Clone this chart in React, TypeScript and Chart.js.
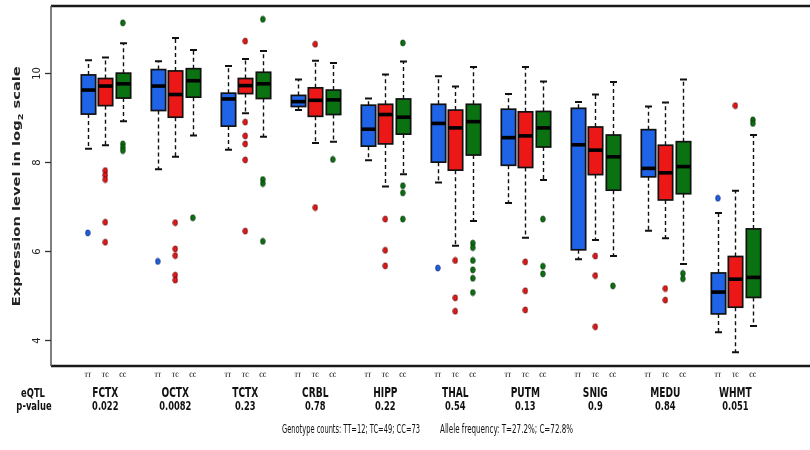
import React, { useEffect, useRef } from "react";
import { Chart, registerables } from "chart.js";

Chart.register(...registerables);

const regions = ["FCTX", "OCTX", "TCTX", "CRBL", "HIPP", "THAL", "PUTM", "SNIG", "MEDU", "WHMT"];
const pValues = ["0.022", "0.0082", "0.23", "0.78", "0.22", "0.54", "0.13", "0.9", "0.84", "0.051"];
const genotypes = ["TT", "TC", "CC"];
const yTicks = [4, 6, 8, 10];

// TT
const ttLow = [8.29, 7.83, 8.27, 9.16, 8.03, 7.53, 7.07, 5.81, 6.45, 4.17];
const ttQ1 = [9.07, 9.15, 8.8, 9.24, 8.35, 7.99, 7.92, 6.02, 7.66, 4.58];
const ttMed = [9.61, 9.7, 9.41, 9.35, 8.73, 8.86, 8.54, 8.38, 7.85, 5.07];
const ttQ3 = [9.95, 10.07, 9.54, 9.49, 9.27, 9.29, 9.18, 9.2, 8.72, 5.5];
const ttHigh = [10.28, 10.26, 10.15, 9.85, 9.42, 9.92, 9.52, 9.34, 9.24, 6.85];
const ttOut = [[6.4], [5.76], [], [], [], [5.61], [], [], [], [7.18]];

// TC
const tcLow = [8.37, 8.11, 9.09, 8.42, 7.44, 6.11, 6.29, 6.24, 6.28, 3.72];
const tcQ1 = [9.26, 9.0, 9.53, 9.02, 8.4, 7.81, 7.87, 7.71, 7.14, 4.73];
const tcMed = [9.7, 9.51, 9.71, 9.38, 9.06, 8.76, 8.58, 8.26, 7.75, 5.36];
const tcQ3 = [9.87, 10.04, 9.87, 9.66, 9.29, 9.16, 9.12, 8.78, 8.37, 5.87];
const tcHigh = [10.34, 10.78, 10.31, 10.27, 9.96, 9.69, 10.13, 9.51, 9.33, 7.35];
const tcOut = [
  [7.8, 7.7, 7.6, 6.64, 6.19],
  [6.63, 6.04, 5.89, 5.45, 5.34],
  [10.71, 8.89, 8.58, 8.4, 8.04, 6.44],
  [10.64, 6.97],
  [6.71, 6.01, 5.66],
  [5.78, 4.94, 4.64],
  [5.75, 5.1, 4.67],
  [5.88, 5.44, 4.29],
  [5.15, 4.89],
  [9.26],
];

// CC
const ccLow = [8.91, 8.59, 8.56, 8.45, 7.72, 6.67, 7.59, 5.88, 5.7, 4.31];
const ccQ1 = [9.43, 9.45, 9.42, 9.06, 8.62, 8.15, 8.33, 7.36, 7.28, 4.95];
const ccMed = [9.75, 9.82, 9.75, 9.39, 9.0, 8.9, 8.76, 8.11, 7.89, 5.4];
const ccQ3 = [9.99, 10.09, 10.01, 9.61, 9.41, 9.29, 9.13, 8.6, 8.45, 6.49];
const ccHigh = [10.66, 10.51, 10.49, 10.22, 10.25, 10.13, 9.8, 9.79, 9.85, 8.6];
const ccOut = [
  [11.12, 8.4, 8.32, 8.25],
  [6.74],
  [11.2, 7.6, 7.51, 6.21],
  [8.05],
  [10.67, 7.46, 7.3, 6.71],
  [6.17, 6.07, 5.78, 5.57, 5.38, 5.06],
  [6.71, 5.65, 5.48],
  [5.21],
  [5.49, 5.37],
  [8.94, 8.86],
];

const footGenotypeCounts = "Genotype counts: TT=12; TC=49; CC=73";
const footAllele = "Allele frequency: T=27.2%; C=72.8%";

const colors = ["#1f63e6", "#ec1717", "#0b7212"];
const outlineColors = ["#0a2c77", "#6e0707", "#043806"];

const stats = [
  { low: ttLow, q1: ttQ1, med: ttMed, q3: ttQ3, high: ttHigh, out: ttOut },
  { low: tcLow, q1: tcQ1, med: tcMed, q3: tcQ3, high: tcHigh, out: tcOut },
  { low: ccLow, q1: ccQ1, med: ccMed, q3: ccQ3, high: ccHigh, out: ccOut },
];

const slotOf = (g: number, k: number) => g * 4 + k + 1;

function makeEllipse(fill: string, stroke: string) {
  const c = document.createElement("canvas");
  c.width = 6;
  c.height = 8;
  const ctx = c.getContext("2d")!;
  ctx.beginPath();
  ctx.ellipse(3, 4, 2.2, 3, 0, 0, Math.PI * 2);
  ctx.fillStyle = fill;
  ctx.fill();
  ctx.lineWidth = 0.9;
  ctx.strokeStyle = stroke;
  ctx.stroke();
  return c;
}

const COND = '"DejaVu Sans Condensed", "Liberation Sans Narrow", "DejaVu Sans", sans-serif';

function drawText(
  ctx: CanvasRenderingContext2D,
  text: string,
  x: number,
  y: number,
  font: string,
  sx: number,
  align: CanvasTextAlign,
  color = "#111"
) {
  ctx.save();
  ctx.translate(x, y);
  ctx.scale(sx, 1);
  ctx.font = font;
  ctx.fillStyle = color;
  ctx.textAlign = align;
  ctx.textBaseline = "alphabetic";
  ctx.fillText(text, 0, 0);
  ctx.restore();
}

function drawFit(
  ctx: CanvasRenderingContext2D,
  text: string,
  x: number,
  y: number,
  font: string,
  width: number
) {
  ctx.save();
  ctx.font = font;
  const w = ctx.measureText(text).width;
  ctx.restore();
  drawText(ctx, text, x, y, font, width / w, "left");
}

const boxPlugin = {
  id: "boxes",
  beforeDatasetsDraw(chart: any) {
    const ctx: CanvasRenderingContext2D = chart.ctx;
    const xs = chart.scales.x;
    const ys = chart.scales.y;
    const area = chart.chartArea;
    const half = xs.getPixelForValue(1.41) - xs.getPixelForValue(1);
    const capHalf = xs.getPixelForValue(1.2) - xs.getPixelForValue(1);

    ctx.save();
    for (let k = 0; k < 3; k++) {
      const s = stats[k];
      for (let g = 0; g < regions.length; g++) {
        const px = Math.round(xs.getPixelForValue(slotOf(g, k))) + 0.5;
        const pLow = ys.getPixelForValue(s.low[g]);
        const pQ1 = ys.getPixelForValue(s.q1[g]);
        const pMed = ys.getPixelForValue(s.med[g]);
        const pQ3 = ys.getPixelForValue(s.q3[g]);
        const pHigh = ys.getPixelForValue(s.high[g]);

        // whiskers
        ctx.strokeStyle = "#111";
        ctx.lineWidth = 1.4;
        ctx.setLineDash([4, 3]);
        ctx.beginPath();
        ctx.moveTo(px, pQ3);
        ctx.lineTo(px, pHigh);
        ctx.moveTo(px, pQ1);
        ctx.lineTo(px, pLow);
        ctx.stroke();
        ctx.setLineDash([]);
        // caps
        ctx.lineWidth = 2;
        ctx.beginPath();
        ctx.moveTo(px - capHalf, pHigh);
        ctx.lineTo(px + capHalf, pHigh);
        ctx.moveTo(px - capHalf, pLow);
        ctx.lineTo(px + capHalf, pLow);
        ctx.stroke();

        // box
        ctx.fillStyle = colors[k];
        ctx.fillRect(px - half, pQ3, half * 2, pQ1 - pQ3);
        ctx.lineWidth = 1.7;
        ctx.strokeStyle = "#111";
        ctx.strokeRect(px - half, pQ3, half * 2, pQ1 - pQ3);
        // median
        ctx.fillStyle = "#000";
        ctx.fillRect(px - half, pMed - 1.8, half * 2, 3.6);
      }
    }

    // frame
    ctx.strokeStyle = "#1a1a1a";
    ctx.lineWidth = 2.4;
    ctx.beginPath();
    ctx.moveTo(area.left, area.top);
    ctx.lineTo(chart.width, area.top);
    ctx.moveTo(area.left, area.bottom);
    ctx.lineTo(chart.width, area.bottom);
    ctx.stroke();
    ctx.strokeStyle = "#555";
    ctx.lineWidth = 1.5;
    ctx.beginPath();
    ctx.moveTo(area.left, area.top);
    ctx.lineTo(area.left, area.bottom);
    ctx.stroke();

    // y ticks
    ctx.lineWidth = 1.3;
    ctx.strokeStyle = "#333";
    for (const v of yTicks) {
      const py = Math.round(ys.getPixelForValue(v)) + 0.5;
      ctx.beginPath();
      ctx.moveTo(area.left - 6, py);
      ctx.lineTo(area.left, py);
      ctx.stroke();
      ctx.save();
      ctx.translate(40, py);
      ctx.rotate(-Math.PI / 2);
      ctx.font = "10px 'DejaVu Sans', sans-serif";
      ctx.fillStyle = "#222";
      ctx.textAlign = "center";
      ctx.textBaseline = "alphabetic";
      ctx.fillText(String(v), 0, 0);
      ctx.restore();
    }

    // y axis title
    ctx.save();
    const midY = (ys.getPixelForValue(yTicks[0]) + ys.getPixelForValue(yTicks[yTicks.length - 1])) / 2 - 20;
    ctx.translate(20, midY);
    ctx.rotate(-Math.PI / 2);
    const tf = "bold 12px 'DejaVu Sans', sans-serif";
    const sf = "bold 8px 'DejaVu Sans', sans-serif";
    const p1 = "Expression level in log";
    const p2 = "2";
    const p3 = " scale";
    ctx.font = tf;
    const w1 = ctx.measureText(p1).width;
    const w3 = ctx.measureText(p3).width;
    ctx.font = sf;
    const w2 = ctx.measureText(p2).width;
    const total = w1 + w2 + w3;
    const scaleAlong = 240 / total;
    ctx.scale(scaleAlong, 0.85);
    ctx.fillStyle = "#222";
    ctx.textAlign = "left";
    ctx.textBaseline = "alphabetic";
    let cx = -total / 2;
    ctx.font = tf;
    ctx.fillText(p1, cx, 0);
    cx += w1;
    ctx.font = sf;
    ctx.fillText(p2, cx, 3);
    cx += w2;
    ctx.font = tf;
    ctx.fillText(p3, cx, 0);
    ctx.restore();

    // bottom labels
    for (let g = 0; g < regions.length; g++) {
      for (let k = 0; k < 3; k++) {
        const px = xs.getPixelForValue(slotOf(g, k));
        drawText(ctx, genotypes[k], px, 377, "bold 6px 'DejaVu Serif', serif", 0.75, "center", "#333");
      }
      const cxp = xs.getPixelForValue(slotOf(g, 1));
      drawText(ctx, regions[g], cxp, 396.5, "bold 14px " + COND, 0.72, "center");
      drawText(ctx, pValues[g], cxp, 410, "bold 12.5px " + COND, 0.74, "center");
    }
    drawText(ctx, "eQTL", 33, 396.5, "bold 13px " + COND, 0.72, "center");
    drawText(ctx, "p-value", 34, 410, "bold 13px " + COND, 0.72, "center");
    drawFit(ctx, footGenotypeCounts, 282, 433, "11.5px " + COND, 138);
    drawFit(ctx, footAllele, 440, 433, "11.5px " + COND, 133);

    ctx.restore();
  },
};

export default function App() {
  const ref = useRef<HTMLCanvasElement | null>(null);
  useEffect(() => {
    if (!ref.current) return;
    const datasets = [0, 1, 2].map((k) => {
      const data: { x: number; y: number }[] = [];
      stats[k].out.forEach((vals, g) => vals.forEach((v) => data.push({ x: slotOf(g, k), y: v })));
      return {
        label: genotypes[k],
        data,
        pointStyle: makeEllipse(colors[k], outlineColors[k]) as any,
        pointRadius: 3,
        showLine: false,
      };
    });
    const chart = new Chart(ref.current, {
      type: "scatter",
      data: { datasets },
      options: {
        animation: false,
        responsive: false,
        maintainAspectRatio: false,
        events: [],
        layout: { padding: { left: 51, top: 6, right: 0, bottom: 84 } },
        plugins: { legend: { display: false }, tooltip: { enabled: false } },
        scales: {
          x: { type: "linear", min: -1.1, max: 41.98, display: false },
          y: { type: "linear", min: 3.409, max: 11.499, display: false },
        },
      },
      plugins: [boxPlugin],
    });
    return () => chart.destroy();
  }, []);
  return (
    <div style={{ position: "fixed", left: 0, top: 0, width: 810, height: 450, background: "#fff" }}>
      <canvas ref={ref} width={810} height={450} style={{ width: 810, height: 450 }} />
    </div>
  );
}
